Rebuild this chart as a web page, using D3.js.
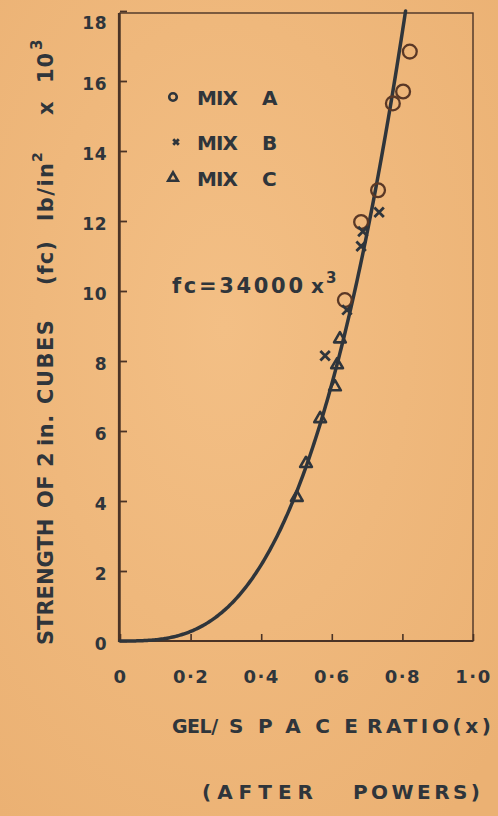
<!DOCTYPE html>
<html>
<head>
<meta charset="utf-8">
<script src="https://cdn.jsdelivr.net/npm/d3@7"></script>
<style>
  html, body { margin: 0; padding: 0; background: #f0b97c; }
  svg { display: block; }
  text { font-family: "DejaVu Sans", sans-serif; font-weight: bold; fill: #2f353b; }
</style>
</head>
<body>
<svg id="chart" width="498" height="816"></svg>
<script>
// Strength of 2 in. cubes against gel/space ratio (after Powers)
const mixA = [[0.637, 9.74], [0.683, 11.97], [0.731, 12.88], [0.773, 15.36], [0.802, 15.70], [0.821, 16.84]];
const mixB = [[0.581, 8.15], [0.643, 9.46], [0.683, 11.28], [0.688, 11.70], [0.734, 12.25]];
const mixC = [[0.501, 4.10], [0.527, 5.07], [0.567, 6.35], [0.609, 7.26], [0.615, 7.89], [0.623, 8.63]];

const xTicks = [0, 0.2, 0.4, 0.6, 0.8, 1.0];
const yTicks = [0, 2, 4, 6, 8, 10, 12, 14, 16, 18];

// fitted law fc = 34000 x^3 (psi), plotted in units of 10^3 psi
const fitCoef = 34000;
const legendLabels = ["A", "B", "C"];

const W = 498, H = 816;
const svg = d3.select("#chart");

// paper background with slight darkening towards the edges
const defs = svg.append("defs");
const grad = defs.append("radialGradient").attr("id", "paper")
  .attr("cx", "45%").attr("cy", "40%").attr("r", "75%");
grad.append("stop").attr("offset", "0%").attr("stop-color", "#f3bf85");
grad.append("stop").attr("offset", "100%").attr("stop-color", "#ebb173");
svg.append("rect").attr("width", W).attr("height", H).attr("fill", "url(#paper)");

const x = d3.scaleLinear().domain([0, 1]).range([120, 473]);
const y = d3.scaleLinear().domain([0, 18]).range([641, 11]);

const ink = "#2f353b";
const brownInk = "#5a3826";
const frameInk = "#4a3326";

// frame
svg.append("rect")
  .attr("x", x(0)).attr("y", y(18) + 2)
  .attr("width", x(1) - x(0)).attr("height", y(0) - y(18) - 2)
  .attr("fill", "none").attr("stroke", frameInk).attr("stroke-width", 1.4);
svg.append("line")
  .attr("x1", x(0) - 1).attr("x2", x(0) - 1).attr("y1", y(18) + 2).attr("y2", y(0) + 1)
  .attr("stroke", frameInk).attr("stroke-width", 2.2);
svg.append("line")
  .attr("x1", x(0)).attr("x2", x(1)).attr("y1", y(0)).attr("y2", y(0))
  .attr("stroke", frameInk).attr("stroke-width", 2);

// x axis
const fmtX = d => d === 0 ? "0" : d3.format(".1f")(d).replace(".", "·");
const gx = svg.append("g").attr("transform", `translate(0,${y(0)})`)
  .call(d3.axisBottom(x).tickValues(xTicks).tickFormat(fmtX)
    .tickSizeInner(-7).tickSizeOuter(0).tickPadding(29));
gx.select(".domain").remove();
gx.selectAll(".tick line").attr("stroke", frameInk).attr("stroke-width", 1.6);
gx.selectAll(".tick text").attr("font-size", 18).attr("letter-spacing", 1.5)
  .attr("font-family", "DejaVu Sans, sans-serif").attr("fill", ink);

// y axis
const gy = svg.append("g").attr("transform", `translate(${x(0)},0)`)
  .call(d3.axisLeft(y).tickValues(yTicks).tickFormat(d3.format("d"))
    .tickSizeInner(-7).tickSizeOuter(0).tickPadding(13));
gy.select(".domain").remove();
gy.selectAll(".tick line").attr("stroke", frameInk).attr("stroke-width", 1.8);
gy.selectAll(".tick text").attr("font-size", 17).attr("letter-spacing", 0.5)
  .attr("font-family", "DejaVu Sans, sans-serif").attr("fill", "#3a3836")
  .attr("dy", d => d === 18 ? "1.0em" : "0.5em");

// fitted curve
const xMax = Math.cbrt(18000 / fitCoef);
const fitPts = d3.range(0, 1.0001, 0.005).map(t => t * xMax)
  .map(v => [v, fitCoef * v * v * v / 1000]);
svg.append("path")
  .datum(fitPts)
  .attr("d", d3.line().x(d => x(d[0])).y(d => y(d[1])).curve(d3.curveMonotoneX))
  .attr("fill", "none").attr("stroke", ink).attr("stroke-width", 3.5)
  .attr("stroke-linecap", "round");

// markers
const circleSym = d3.symbol(d3.symbolCircle, 150);
const timesSym = d3.symbol(d3.symbolTimes, 60);
const triSym = d3.symbol(d3.symbolTriangle, 60);

function drawSeries(data, sym, color, sw) {
  svg.append("g").selectAll("path").data(data).join("path")
    .attr("transform", d => `translate(${x(d[0])},${y(d[1])})`)
    .attr("d", sym)
    .attr("fill", "none").attr("stroke", color).attr("stroke-width", sw)
    .attr("stroke-linejoin", "round");
}
drawSeries(mixA, circleSym, brownInk, 2.3);
drawSeries(mixB, timesSym, ink, 2.8);
drawSeries(mixC, triSym, ink, 2.6);

// legend
const legSyms = [d3.symbol(d3.symbolCircle, 45), d3.symbol(d3.symbolTimes, 22), d3.symbol(d3.symbolTriangle, 40)];
const legY = [97, 142, 178];
legendLabels.forEach((lab, i) => {
  svg.append("path")
    .attr("transform", `translate(${i === 1 ? 176 : 173},${legY[i]})`)
    .attr("d", legSyms[i]).attr("fill", "none").attr("stroke", ink)
    .attr("stroke-width", i === 1 ? 2.8 : 2.6);
  svg.append("text").attr("x", 197).attr("y", legY[i] + 7.5)
    .attr("font-size", 20).attr("textLength", 41).attr("lengthAdjust", "spacing").text("MIX");
  svg.append("text").attr("x", 262).attr("y", legY[i] + 7.5)
    .attr("font-size", 20).text(lab);
});

// fitted law label
svg.append("text").attr("x", 172).attr("y", 293)
  .attr("font-size", 21).attr("textLength", 131).attr("lengthAdjust", "spacing")
  .text("fc=" + d3.format("d")(fitCoef));
svg.append("text").attr("x", 311).attr("y", 293).attr("font-size", 20).text("x");
svg.append("text").attr("x", 326).attr("y", 283).attr("font-size", 15).text("3");

// titles are set word by word
function word(g, str, x0, yb, size, ls, len) {
  const t = g.append("text").attr("x", x0).attr("y", yb).attr("font-size", size)
    .attr("letter-spacing", ls || 0).text(str);
  if (len) t.attr("textLength", len).attr("lengthAdjust", "spacing");
  return t;
}
const xt = svg.append("g");
word(xt, "GEL/", 172, 733, 19, -0.5);
word(xt, "SPACE", 229, 733, 20, 0, 129);
word(xt, "RATIO(x)", 367, 733, 20, 0, 124);
word(xt, "(AFTER", 202, 799, 20, 0, 111);
word(xt, "POWERS)", 353, 799, 20, 0, 127);

// y axis title, reading upwards
const yt = svg.append("g").attr("transform", "translate(53,645) rotate(-90)");
word(yt, "STRENGTH", 0, 0, 21, 0);
word(yt, "OF", 137, 0, 21, 0.5);
word(yt, "2", 178, 0, 21, 0);
word(yt, "in.", 199, 0, 21, 0.5);
word(yt, "CUBES", 241, 0, 21, 1.5);
word(yt, "(fc)", 360, 0, 21, 1);
word(yt, "lb/in", 424, 0, 21, 1.5);
yt.append("text").attr("x", 483).attr("y", -11).attr("font-size", 14).text("2");
word(yt, "x", 530, 0, 21, 0);
word(yt, "10", 562, 0, 21, 1);
yt.append("text").attr("x", 595).attr("y", -11).attr("font-size", 15).text("3");
</script>
</body>
</html>
